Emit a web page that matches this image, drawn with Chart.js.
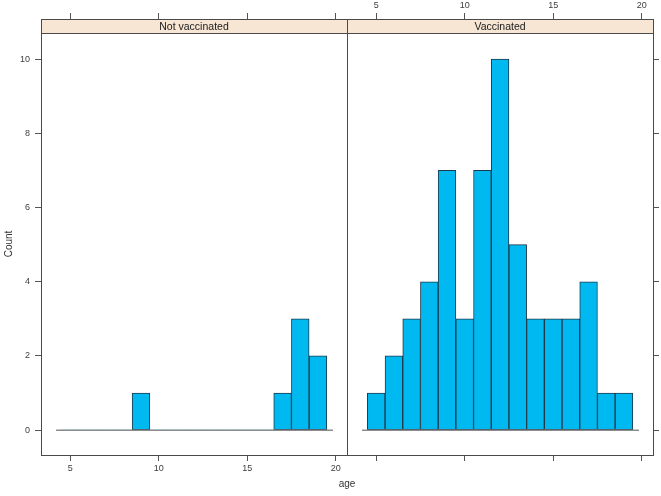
<!DOCTYPE html>
<html>
<head>
<meta charset="utf-8">
<script src="https://cdn.jsdelivr.net/npm/chart.js@4/dist/chart.umd.min.js"></script>
<style>
  body { margin: 0; background: #fff; }
  #wrap { position: relative; width: 661px; height: 496px; }
  canvas { position: absolute; left: 0; top: 0; }
</style>
</head>
<body>
<div id="wrap">
  <canvas id="panelA" width="661" height="496"></canvas>
  <canvas id="panelB" width="661" height="496"></canvas>
</div>
<script>
// histogram bins (age, 1-year bins centred on whole years)
const ages = [5, 6, 7, 8, 9, 10, 11, 12, 13, 14, 15, 16, 17, 18, 19];
const notVaccinated = [0, 0, 0, 0, 1, 0, 0, 0, 0, 0, 0, 0, 1, 3, 2];
const vaccinated    = [1, 2, 3, 4, 7, 3, 7, 10, 5, 3, 3, 3, 4, 1, 1];
const panelLabels = ["Not vaccinated", "Vaccinated"];
const xTicks = [5, 10, 15, 20];
const yTicks = [0, 2, 4, 6, 8, 10];
const zeroLine = [4.2, 19.85];

const FONT = "'Liberation Sans', Arial, Helvetica, sans-serif";
const X_MIN = 3.35, X_MAX = 20.64;
const Y_MIN = -0.67, Y_MAX = 11.08;
const STRIP_H = 14;

const stripPlugin = {
  id: "strip",
  afterDraw(chart, args, opts) {
    const { left, right, top, bottom } = chart.chartArea;
    const ctx = chart.ctx;
    ctx.save();
    ctx.fillStyle = "#f7e6d3";
    ctx.fillRect(left, top, right - left, STRIP_H);
    ctx.strokeStyle = "#4a4a4a";
    ctx.lineWidth = 1;
    ctx.strokeRect(left + 0.5, top + 0.5, right - left, STRIP_H);
    ctx.strokeRect(left + 0.5, top + STRIP_H + 0.5, right - left, bottom - top - STRIP_H);
    ctx.fillStyle = "#1a1a1a";
    ctx.font = "10.5px " + FONT;
    ctx.textAlign = "center";
    ctx.textBaseline = "middle";
    ctx.fillText(opts.label, (left + right) / 2, top + STRIP_H / 2 + 1);
    if (opts.titles) {
      ctx.fillStyle = "#333";
      ctx.font = "10px " + FONT;
      ctx.fillText("age", 347, 484);
      ctx.translate(9, 244);
      ctx.rotate(-Math.PI / 2);
      ctx.fillText("Count", 0, 0);
    }
    ctx.restore();
  }
};

function fixTicks(values) {
  return (scale) => { scale.ticks = values.map(v => ({ value: v })); };
}

function xAxis(position, showLabels, size) {
  return {
    type: "linear",
    position: position,
    min: X_MIN,
    max: X_MAX,
    offset: false,
    afterBuildTicks: fixTicks(xTicks),
    afterFit: (s) => { s.height = size; },
    border: { display: false },
    grid: { offset: false, drawOnChartArea: false, drawTicks: true, tickLength: 6, color: "#555" },
    ticks: { display: showLabels, padding: 2, color: "#3d3d3d", font: { family: FONT, size: 9 } }
  };
}

function makePanel(canvasId, label, counts, left) {
  const ctx = document.getElementById(canvasId);
  return new Chart(ctx, {
    type: "bar",
    data: {
      datasets: [
        {
          type: "line",
          data: zeroLine.map(x => ({ x: x, y: 0 })),
          borderColor: "#8c8c8c",
          borderWidth: 1.5,
          pointRadius: 0,
          order: 0
        },
        {
          data: ages.map((a, i) => ({ x: a, y: counts[i] })),
          backgroundColor: "#00b9f0",
          borderColor: "#1d3a4c",
          borderWidth: (c) => (c.raw && c.raw.y > 0 ? 1 : 0),
          borderSkipped: false,
          barPercentage: 1,
          categoryPercentage: 1,
          order: 1
        }
      ]
    },
    options: {
      responsive: false,
      animation: false,
      layout: { padding: left ? { left: 0, right: 314, top: 0, bottom: 0 } : { left: 347, right: 0, top: 0, bottom: 0 } },
      scales: {
        x: xAxis("bottom", left, 41),
        xTop: xAxis("top", !left, 19),
        y: {
          type: "linear",
          position: left ? "left" : "right",
          min: Y_MIN,
          max: Y_MAX,
          afterBuildTicks: fixTicks(yTicks),
          afterFit: (s) => { s.width = left ? 41 : 8; },
          border: { display: false },
          grid: { drawOnChartArea: false, drawTicks: true, tickLength: 6, color: "#555" },
          ticks: { display: left, padding: 5, color: "#3d3d3d", font: { family: FONT, size: 9 } }
        }
      },
      plugins: {
        legend: { display: false },
        tooltip: { enabled: false },
        strip: { label: label, titles: left }
      }
    },
    plugins: [stripPlugin]
  });
}

makePanel("panelA", panelLabels[0], notVaccinated, true);
makePanel("panelB", panelLabels[1], vaccinated, false);
</script>
</body>
</html>
